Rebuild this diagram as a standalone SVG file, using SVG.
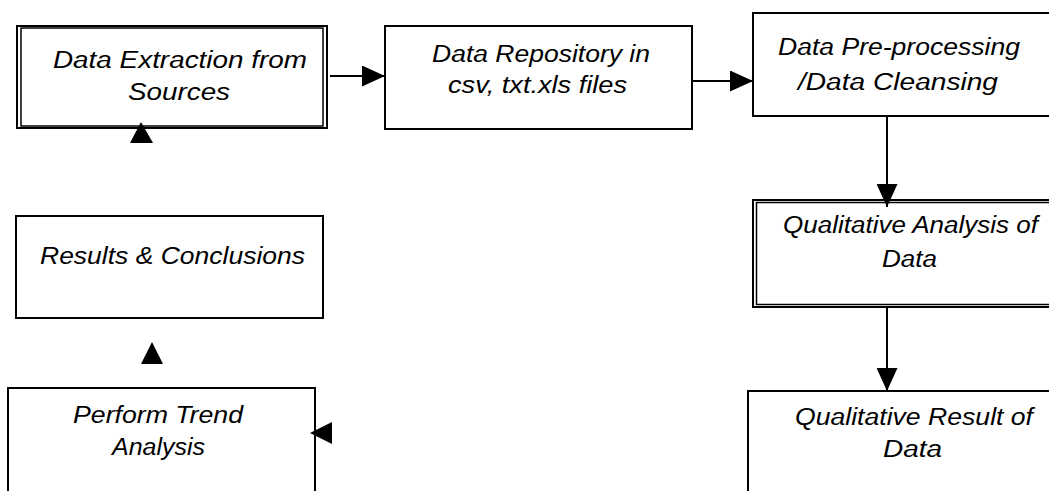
<svg xmlns="http://www.w3.org/2000/svg" width="1049" height="491" viewBox="0 0 1049 491">
<style>
.box{fill:#fff;stroke:#000;stroke-width:2}
.inner{fill:none;stroke:#000;stroke-width:1.5}
.t{font-family:"Liberation Sans",Arial,sans-serif;font-style:italic;font-size:23px;fill:#000}
.conn{stroke:#000;stroke-width:2;fill:none}
.head{fill:#000}
</style>
<defs>
<marker id="arr" viewBox="0 0 23 21" refX="23" refY="10.5" markerWidth="23" markerHeight="21" markerUnits="userSpaceOnUse" orient="auto">
<path d="M0,0 L23,10.5 L0,21 z" fill="#000"/>
</marker>
</defs>
<rect width="1049" height="491" fill="#fff"/>
<g id="extraction">
<rect class="box" x="17" y="26" width="310" height="102"/>
<rect class="inner" x="21" y="28" width="302" height="98"/>
<text class="t" x="53" y="68" textLength="254" lengthAdjust="spacingAndGlyphs">Data Extraction from</text>
<text class="t" x="128" y="100" textLength="102" lengthAdjust="spacingAndGlyphs">Sources</text>
</g>
<g id="repository">
<rect class="box" x="385" y="26" width="307" height="103"/>
<text class="t" x="432" y="62" textLength="218" lengthAdjust="spacingAndGlyphs">Data Repository in</text>
<text class="t" x="448" y="93" textLength="179" lengthAdjust="spacingAndGlyphs">csv, txt.xls files</text>
</g>
<g id="preprocessing">
<rect class="box" x="753" y="13" width="310" height="103"/>
<text class="t" x="778" y="55" textLength="242" lengthAdjust="spacingAndGlyphs">Data Pre-processing</text>
<text class="t" x="798" y="90" textLength="200" lengthAdjust="spacingAndGlyphs">/Data Cleansing</text>
</g>
<g id="analysis">
<rect class="box" x="753" y="200" width="310" height="107"/>
<rect class="inner" x="756.5" y="202.5" width="310" height="102"/>
<text class="t" x="783" y="233" textLength="255" lengthAdjust="spacingAndGlyphs">Qualitative Analysis of</text>
<text class="t" x="882" y="267" textLength="55" lengthAdjust="spacingAndGlyphs">Data</text>
</g>
<g id="result">
<rect class="box" x="748" y="391" width="320" height="120"/>
<text class="t" x="795" y="425" textLength="238" lengthAdjust="spacingAndGlyphs">Qualitative Result of</text>
<text class="t" x="883" y="457" textLength="59" lengthAdjust="spacingAndGlyphs">Data</text>
</g>
<g id="conclusions">
<rect class="box" x="16" y="216" width="307" height="102"/>
<text class="t" x="40" y="264" textLength="265" lengthAdjust="spacingAndGlyphs">Results &amp; Conclusions</text>
</g>
<g id="trend">
<rect class="box" x="8" y="388" width="307" height="120"/>
<text class="t" x="73" y="423" textLength="170" lengthAdjust="spacingAndGlyphs">Perform Trend</text>
<text class="t" x="112" y="455" textLength="93" lengthAdjust="spacingAndGlyphs">Analysis</text>
</g>
<g id="connectors">
<line class="conn" x1="330" y1="76" x2="385" y2="76" marker-end="url(#arr)"/>
<line class="conn" x1="692" y1="81" x2="753" y2="81" marker-end="url(#arr)"/>
<line class="conn" x1="887" y1="116" x2="887" y2="207" marker-end="url(#arr)"/>
<line class="conn" x1="887" y1="307" x2="887" y2="391" marker-end="url(#arr)"/>
<polygon class="head" points="141,122 130,143 153,143"/>
<polygon class="head" points="152,342 141,364 163,364"/>
<polygon class="head" points="310,433 332,422 332,444"/>
</g>
</svg>
